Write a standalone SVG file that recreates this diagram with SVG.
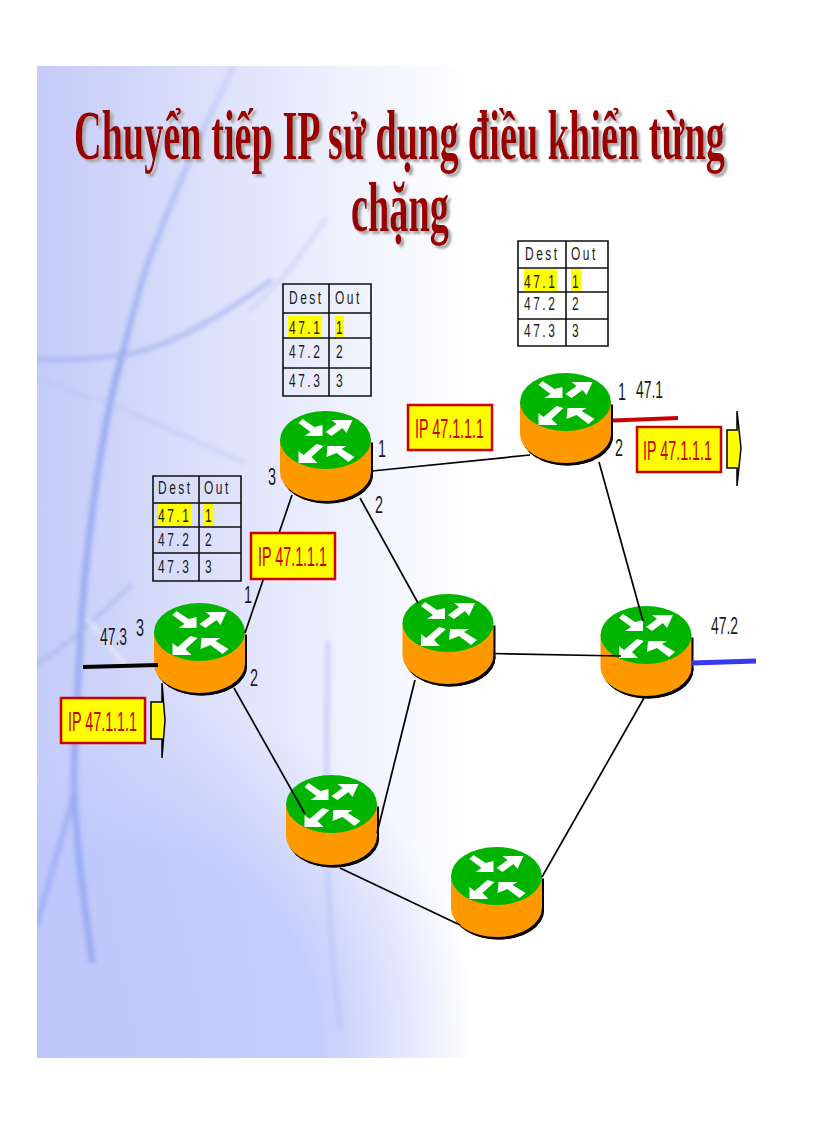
<svg xmlns="http://www.w3.org/2000/svg" xmlns:xlink="http://www.w3.org/1999/xlink" width="816" height="1123" viewBox="0 0 816 1123">
<style>
text{font-family:"Liberation Sans",Arial,sans-serif;fill:#1a1a1a;font-size:22px}
.cell{font-size:19px;letter-spacing:4px}
.lbl{font-size:24px}
.title{font-family:"Liberation Serif","Times New Roman",serif;font-weight:bold;font-size:70px;fill:#990000}
.tag{font-size:27px;fill:#cc0000}
.tagbox{fill:#ffff00;stroke:#cc0000;stroke-width:2.5}
.tb{fill:none;stroke:#111;stroke-width:1.6}
.hl{fill:#ffff00}
.link{stroke:#000;stroke-width:1.7;fill:none}
.streak{fill:none;stroke-linecap:round}
.yarrow{fill:#ffff00;stroke:#000;stroke-width:1.5}
</style>
<defs>
<linearGradient id="bg" gradientUnits="userSpaceOnUse" x1="37" y1="0" x2="470" y2="0">
<stop offset="0" stop-color="#c4cbf8"/><stop offset=".3" stop-color="#d6dbfa"/><stop offset=".7" stop-color="#eef0fd"/><stop offset="1" stop-color="#ffffff"/>
</linearGradient>
<radialGradient id="bg2" gradientUnits="userSpaceOnUse" cx="130" cy="1040" r="345">
<stop offset="0" stop-color="#bcc6fb" stop-opacity=".85"/><stop offset=".55" stop-color="#bcc6fb" stop-opacity=".8"/><stop offset="1" stop-color="#c4ccfb" stop-opacity="0"/>
</radialGradient>
<linearGradient id="mainstreak" gradientUnits="userSpaceOnUse" x1="0" y1="67" x2="0" y2="360">
<stop offset="0" stop-color="#8fa2f0" stop-opacity=".2"/><stop offset="1" stop-color="#8fa2f0" stop-opacity=".75"/>
</linearGradient>
<filter id="soft" x="-20%" y="-20%" width="140%" height="140%"><feGaussianBlur stdDeviation="2"/></filter>
<filter id="shadow" x="-5%" y="-20%" width="110%" height="150%"><feDropShadow dx="3" dy="3" stdDeviation="0.8" flood-color="#a8a8a8" flood-opacity="1"/></filter>
<clipPath id="bgclip"><rect x="37" y="66" width="433" height="992"/></clipPath>
<g id="router">
<path d="M-43.5,2.5V34.5A45.5,29 0 0 0 47.5,34.5V2.5Z" fill="#000"/>
<ellipse cx="2" cy="34.5" rx="45.5" ry="29" fill="#000"/>
<path d="M-45.5,0V32A45.5,29 0 0 0 45.5,32V0Z" fill="#ff9900"/>
<ellipse cx="0" cy="0" rx="45.5" ry="29" fill="#00b400"/>
<path d="M-27,-17L-23,-21L-11,-13L-3,-15L-3,-4L-21,-4L-15,-8Z M0,-8L11,-16L6,-20L27,-20L21,-7L17,-12L6,-4Z M-27,11L-22,15L-9,4L-2,6L-14,17L-8,23L-27,23Z M2,6L21,6L16,9L29,17L23,22L11,13L1,17Z" fill="#fff"/>
</g>
</defs>
<rect width="816" height="1123" fill="#fff"/>
<g id="background" clip-path="url(#bgclip)">
<rect x="37" y="66" width="433" height="992" fill="url(#bg)"/>
<rect x="37" y="66" width="433" height="992" fill="url(#bg2)"/>
<g filter="url(#soft)">
<path class="streak" stroke="url(#mainstreak)" stroke-width="6" d="M233,67C210,115 175,190 150,257C138,290 130,325 123,352"/>
<path class="streak" stroke="#8fa2f0" stroke-opacity=".75" stroke-width="7" d="M123,352C100,430 84,560 80,644C76,720 72,780 75,807C78,860 84,900 92,960"/>
<path class="streak" stroke="#a4b2f0" stroke-opacity=".7" stroke-width="5" d="M37,359C70,362 100,358 123,355C170,348 230,310 270,281"/>
<path class="streak" stroke="#a4b2f0" stroke-opacity=".5" stroke-width="5" d="M37,664C60,650 90,625 130,586"/>
<path class="streak" stroke="#93a4f5" stroke-opacity=".6" stroke-width="6" d="M72,800C60,850 48,880 37,925"/>
<path class="streak" stroke="#ffffff" stroke-opacity=".55" stroke-width="3" d="M88,620L127,667"/>
<path class="streak" stroke="#b4bff0" stroke-opacity=".45" stroke-width="4" d="M37,378L90,398M98,398L243,462"/>
<path class="streak" stroke="#b8c2f4" stroke-opacity=".55" stroke-width="6" d="M328,644C326,720 327,800 327,860C329,930 335,980 340,1027"/>
<path class="streak" stroke="#b4bff0" stroke-opacity=".35" stroke-width="5" d="M325,220C305,250 275,290 250,310"/>
</g>
</g>
<g id="title" filter="url(#shadow)">
<text class="title" x="74" y="159" textLength="651" lengthAdjust="spacingAndGlyphs">Chuyển tiếp IP sử dụng điều khiển từng</text>
<text class="title" x="351" y="231" textLength="98" lengthAdjust="spacingAndGlyphs">chặng</text>
</g>
<g id="node-r1"><use xlink:href="#router" href="#router" x="199.5" y="632"/></g>
<g id="node-r2"><use xlink:href="#router" href="#router" x="325.5" y="440"/></g>
<g id="node-r3"><use xlink:href="#router" href="#router" x="565.5" y="402"/></g>
<g id="node-r4"><use xlink:href="#router" href="#router" x="448" y="623"/></g>
<g id="node-r5"><use xlink:href="#router" href="#router" x="646" y="635"/></g>
<g id="node-r6"><use xlink:href="#router" href="#router" x="331.5" y="804"/></g>
<g id="node-r7"><use xlink:href="#router" href="#router" x="496.5" y="876"/></g>
<g id="connectors">
<line class="link" x1="245" y1="633" x2="292" y2="495"/>
<line class="link" x1="234" y1="688" x2="305" y2="814"/>
<line class="link" x1="372" y1="471" x2="530" y2="455" stroke-width="2"/>
<line class="link" x1="360" y1="498" x2="418" y2="603"/>
<line class="link" x1="599" y1="462" x2="643" y2="621"/>
<line class="link" x1="493" y1="653.5" x2="621" y2="656" stroke-width="2"/>
<line class="link" x1="415" y1="680" x2="377" y2="833"/>
<line class="link" x1="644" y1="698" x2="542" y2="877"/>
<line class="link" x1="340" y1="868" x2="460" y2="925" stroke-width="2.2"/>
<line stroke="#000" stroke-width="4" x1="83" y1="667" x2="158" y2="665"/>
<line stroke="#cc0000" stroke-width="4" x1="613" y1="420.5" x2="678" y2="418"/>
<line stroke="#3838f0" stroke-width="5" x1="692" y1="663" x2="756" y2="661"/>
</g>
<g id="table-1">
<rect class="hl" x="158" y="504" width="33" height="22"/><rect class="hl" x="204" y="504" width="9" height="22"/>
<path class="tb" d="M153,476H241V581H153ZM199,476V581M153,503H241M153,527H241M153,553H241"/>
<text class="cell" transform="translate(158,494) scale(.63,1)">Dest</text><text class="cell" transform="translate(204,494) scale(.63,1)">Out</text>
<text class="cell" transform="translate(158,522) scale(.63,1)">47.1</text><text class="cell" transform="translate(205,522) scale(.63,1)">1</text>
<text class="cell" transform="translate(158,546) scale(.63,1)">47.2</text><text class="cell" transform="translate(205,546) scale(.63,1)">2</text>
<text class="cell" transform="translate(158,573) scale(.63,1)">47.3</text><text class="cell" transform="translate(205,573) scale(.63,1)">3</text>
</g>
<g id="table-2">
<rect class="hl" x="288" y="316" width="34" height="21"/><rect class="hl" x="335" y="316" width="9" height="21"/>
<path class="tb" d="M283,284H371V396H283ZM329,284V396M283,313H371M283,338H371M283,368H371"/>
<text class="cell" transform="translate(289,304) scale(.63,1)">Dest</text><text class="cell" transform="translate(335,304) scale(.63,1)">Out</text>
<text class="cell" transform="translate(289,334) scale(.63,1)">47.1</text><text class="cell" transform="translate(336,334) scale(.63,1)">1</text>
<text class="cell" transform="translate(289,358) scale(.63,1)">47.2</text><text class="cell" transform="translate(336,358) scale(.63,1)">2</text>
<text class="cell" transform="translate(289,387) scale(.63,1)">47.3</text><text class="cell" transform="translate(336,387) scale(.63,1)">3</text>
</g>
<g id="table-3">
<rect class="hl" x="524" y="269" width="33" height="22"/><rect class="hl" x="571" y="269" width="10" height="22"/>
<path class="tb" d="M518,241H608V346H518ZM566,241V346M518,268H608M518,292H608M518,319H608"/>
<text class="cell" transform="translate(525,260) scale(.63,1)">Dest</text><text class="cell" transform="translate(571,260) scale(.63,1)">Out</text>
<text class="cell" transform="translate(524,288) scale(.63,1)">47.1</text><text class="cell" transform="translate(572,288) scale(.63,1)">1</text>
<text class="cell" transform="translate(524,310) scale(.63,1)">47.2</text><text class="cell" transform="translate(572,310) scale(.63,1)">2</text>
<text class="cell" transform="translate(524,337) scale(.63,1)">47.3</text><text class="cell" transform="translate(572,337) scale(.63,1)">3</text>
</g>
<g id="packet-1"><rect class="tagbox" x="61" y="698" width="84" height="45"/><text class="tag" x="68" y="731" textLength="69" lengthAdjust="spacingAndGlyphs">IP 47.1.1.1</text></g>
<g id="packet-2"><rect class="tagbox" x="251" y="533" width="84" height="46"/><text class="tag" x="258" y="566" textLength="69" lengthAdjust="spacingAndGlyphs">IP 47.1.1.1</text></g>
<g id="packet-3"><rect class="tagbox" x="408" y="405" width="84" height="45"/><text class="tag" x="415" y="438" textLength="69" lengthAdjust="spacingAndGlyphs">IP 47.1.1.1</text></g>
<g id="packet-4"><rect class="tagbox" x="637" y="427" width="84" height="45"/><text class="tag" x="643" y="460" textLength="69" lengthAdjust="spacingAndGlyphs">IP 47.1.1.1</text></g>
<g id="flow-in"><path class="yarrow" d="M151,702H162V683L165,720L162,758V739H151Z"/></g>
<g id="flow-out"><path class="yarrow" d="M727,430H737V411L741,448L737,486V468H727Z"/></g>
<g id="labels">
<text class="lbl" transform="translate(100,645) scale(.58,1)">47.3</text>
<text class="lbl" transform="translate(136,636) scale(.6,1)">3</text>
<text class="lbl" transform="translate(244,603) scale(.6,1)">1</text>
<text class="lbl" transform="translate(250,686) scale(.6,1)">2</text>
<text class="lbl" transform="translate(378,457) scale(.6,1)">1</text>
<text class="lbl" transform="translate(268,485) scale(.6,1)">3</text>
<text class="lbl" transform="translate(375,513) scale(.6,1)">2</text>
<text class="lbl" transform="translate(618,400) scale(.6,1)">1</text>
<text class="lbl" transform="translate(636,398) scale(.58,1)">47.1</text>
<text class="lbl" transform="translate(615,456) scale(.6,1)">2</text>
<text class="lbl" transform="translate(711,634) scale(.58,1)">47.2</text>
</g>
</svg>
